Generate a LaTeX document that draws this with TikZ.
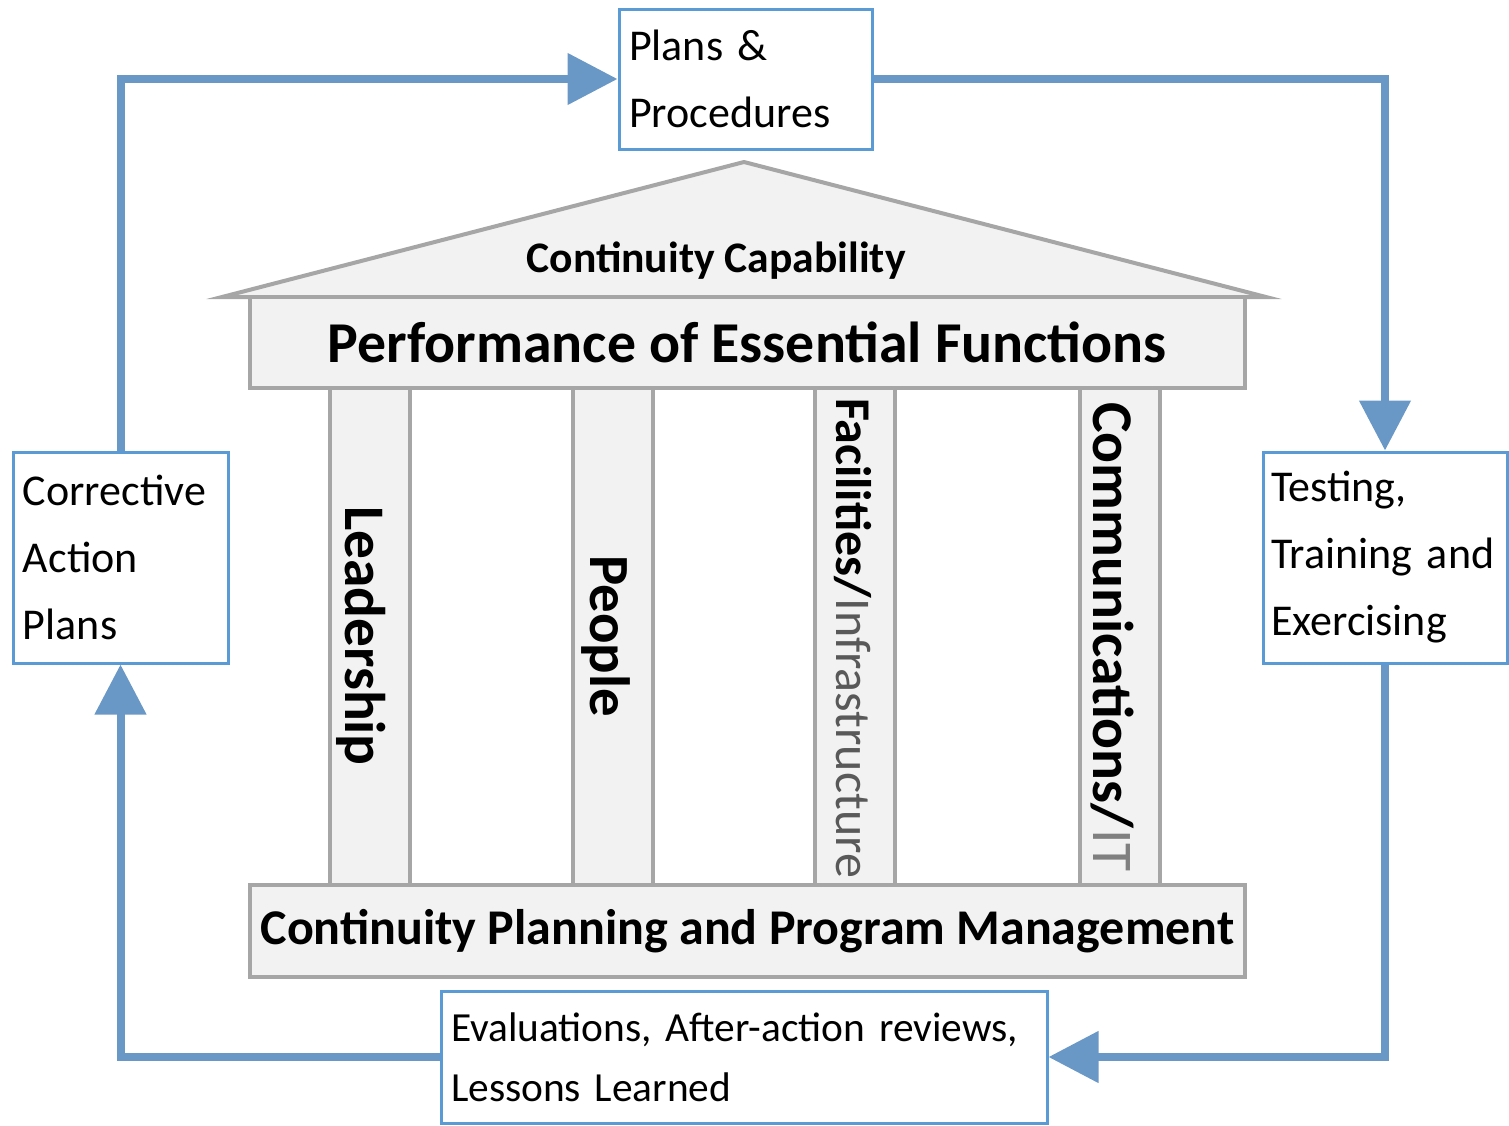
\documentclass[tikz,border=0pt]{standalone}
\usepackage{fontspec}
\setmainfont{Carlito}
\frenchspacing
\usetikzlibrary{arrows.meta}
\definecolor{boxblue}{HTML}{5B9BD5}
\definecolor{arrowblue}{HTML}{6A98C6}
\definecolor{hgray}{HTML}{A6A6A6}
\definecolor{hfill}{HTML}{F2F2F2}
\definecolor{infragray}{HTML}{595959}
\definecolor{itgray}{HTML}{808080}
\newcommand{\fixsp}{\spaceskip=\fontdimen2\font\relax}
\begin{document}
\begin{tikzpicture}[x=0.5pt,y=-0.5pt,
  cbox/.style={draw=boxblue, line width=1.5pt, fill=white, align=left, inner xsep=5pt, inner ysep=0pt, font=\fontsize{22}{33.5}\selectfont\fixsp},
  flow/.style={draw=arrowblue, line width=4pt, -{Triangle[length=25pt,width=25pt]}},
  hshape/.style={draw=hgray, line width=2pt, fill=hfill},
  colbox/.style={hshape, minimum width=40pt, minimum height=248.5pt, inner sep=0pt},
  coltext/.style={rotate=-90, inner sep=0pt},
]
\useasboundingbox (0,0) rectangle (1509,1125);
% boxes
\node[cbox, text width=116.5pt, minimum height=70pt] (plans) at (745.5,79) {Plans \&\\Procedures};
\node[cbox, text width=97.5pt, minimum height=105.5pt] (corr) at (120.5,557.5) {Corrective\\Action\\Plans};
\node[cbox, text width=114pt, inner xsep=4pt, minimum height=105.5pt] (test) at (1385,557.5) {Testing,\\Training and\\Exercising};
\node[cbox, text width=293pt, minimum height=66pt, font=\fontsize{20.7}{30}\selectfont\fixsp] (eval) at (744,1057) {Evaluations, After-action reviews,\\Lessons Learned};
% loop
\draw[flow] (corr.north) |- (plans.west);
\draw[flow] (plans.east) -| (test.north);
\draw[flow] (test.south) |- (eval.east);
\draw[flow] (eval.west) -| (corr.south);
% house
\filldraw[hshape] (222,297) -- (744,162) -- (1266,297) -- cycle;
\node[font=\bfseries\fontsize{21.8}{24}\selectfont, inner sep=0pt] (cap) at (716,261) {Continuity Capability};
\node[hshape, minimum width=497.5pt, minimum height=45.5pt, inner sep=0pt, font=\bfseries\fontsize{28.9}{34}\selectfont] (perf) at (747.5,342.5) {Performance of Essential Functions};
\node[colbox] (c1) at (370,636.5) {};
\node[colbox] (c2) at (612.5,636.5) {};
\node[colbox] (c3) at (855,636.5) {};
\node[colbox] (c4) at (1119.5,636.5) {};
\node[hshape, minimum width=497.5pt, minimum height=46pt, inner sep=0pt, font=\bfseries\fontsize{25}{30}\selectfont] (base) at (747.5,931) {Continuity Planning and Program Management};
\node[coltext, font=\bfseries\fontsize{28.7}{32}\selectfont] (t1) at (361,636) {Leadership};
\node[coltext, font=\bfseries\fontsize{28.4}{32}\selectfont] (t2) at (606,636) {People};
\node[coltext, font=\fontsize{25}{28}\selectfont] (t3) at (853,638) {\textbf{Facilities/}\textcolor{infragray}{Infrastructure}};
\node[coltext, font=\fontsize{28.8}{32}\selectfont] (t4) at (1112,637) {\textbf{Communications/}\textcolor{itgray}{IT}};
\end{tikzpicture}
\end{document}
